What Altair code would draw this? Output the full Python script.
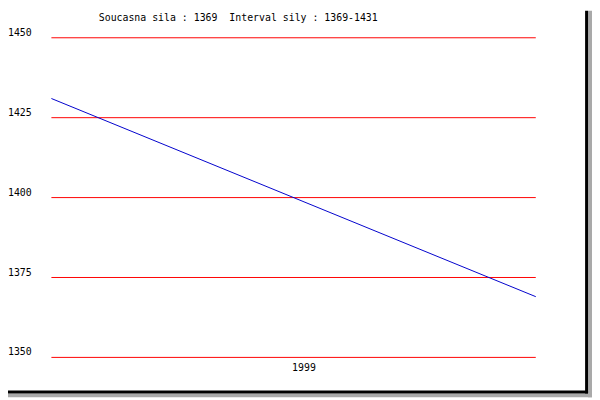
import altair as alt
import pandas as pd

# --- data ---
line_x = [0.0, 1.0]            # start / end of 1999
line_y = [1431, 1369]          # strength values
tick_values = [1450, 1425, 1400, 1375, 1350]
grid_colors = ["#ff0000", "#ff0000", "#ff0000", "#ff0000", "#ff0000"]
x_label = "1999"
title_text = "Soucasna sila : 1369\u00a0 Interval sily : 1369-1431"

line_df = pd.DataFrame({"x": line_x, "y": line_y})
ticks_df = pd.DataFrame({"v": tick_values, "lbl": [str(v) for v in tick_values], "c": grid_colors})
one = pd.DataFrame({"a": [0]})

FONT = "DejaVu Sans Mono"
yscale = alt.Scale(domain=[1350, 1450], range=[351.5, 27.5])
xscale = alt.Scale(domain=[0, 1], range=[44, 535])

shadow_r = alt.Chart(one).mark_rect(color="#a9a9a9").encode(
    x=alt.value(588), x2=alt.value(592), y=alt.value(0), y2=alt.value(392))
shadow_b = alt.Chart(one).mark_rect(color="#a9a9a9").encode(
    x=alt.value(0), x2=alt.value(592), y=alt.value(388), y2=alt.value(392))
border_r = alt.Chart(one).mark_rect(color="#000000").encode(
    x=alt.value(585), x2=alt.value(588), y=alt.value(0), y2=alt.value(388))
border_b = alt.Chart(one).mark_rect(color="#000000").encode(
    x=alt.value(0), x2=alt.value(588), y=alt.value(385), y2=alt.value(388))

grid = alt.Chart(ticks_df).mark_rule(strokeWidth=1).encode(
    y=alt.Y("v:Q", scale=yscale, axis=None),
    x=alt.value(44), x2=alt.value(535),
    color=alt.Color("c:N", scale=None),
)

labels = alt.Chart(ticks_df).mark_text(
    font=FONT, fontSize=10, align="left", baseline="alphabetic", dy=-2, color="#000000"
).encode(
    y=alt.Y("v:Q", scale=yscale, axis=None),
    x=alt.value(0),
    text="lbl:N",
)

line = alt.Chart(line_df).mark_line(color="#0000cc", strokeWidth=1).encode(
    x=alt.X("x:Q", scale=xscale, axis=None),
    y=alt.Y("y:Q", scale=yscale, axis=None),
)

xlab = alt.Chart(pd.DataFrame({"t": [x_label]})).mark_text(
    font=FONT, fontSize=10, align="center", baseline="alphabetic", color="#000000"
).encode(x=alt.value(300), y=alt.value(365), text="t:N")

title = alt.Chart(pd.DataFrame({"t": [title_text]})).mark_text(
    font=FONT, fontSize=10, align="left", baseline="alphabetic", color="#000000"
).encode(x=alt.value(92), y=alt.value(10), text="t:N")

chart = alt.layer(
    shadow_r, shadow_b, border_r, border_b, grid, line, labels, xlab, title
).properties(
    width=592, height=392, padding=0, autosize=alt.AutoSizeParams(type="none"),
    background="#ffffff",
).configure_view(strokeWidth=0)

chart.save("out.html", embed_options={"renderer": "svg", "actions": False})
